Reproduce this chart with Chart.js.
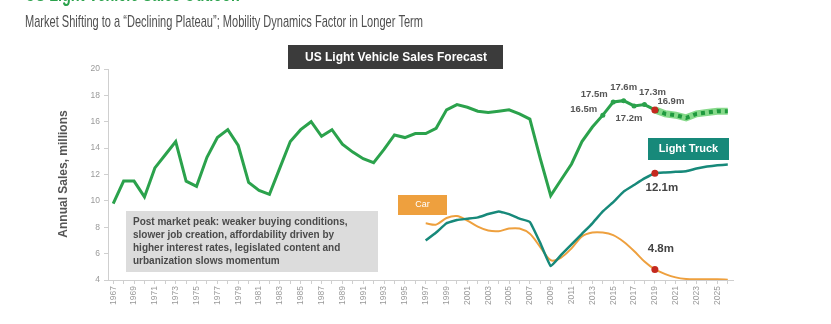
<!DOCTYPE html>
<html>
<head>
<meta charset="utf-8">
<script src="https://cdn.jsdelivr.net/npm/chart.js@4/dist/chart.umd.min.js"></script>
<style>
  html, body { margin: 0; padding: 0; background: #fff; }
  canvas { display: block; }
</style>
</head>
<body>
<canvas id="salesChart" width="831" height="324"></canvas>
<script>
// categories: 1967 .. 2026
const years = [];
for (let y = 1967; y <= 2026; y++) years.push(String(y));

// total light vehicle sales, actual 1967-2019 (millions)
const lvActual = [9.8, 11.5, 11.5, 10.3, 12.5, 13.5, 14.5, 11.5, 11.1, 13.3,
  14.8, 15.4, 14.2, 11.4, 10.8, 10.5, 12.5, 14.5, 15.4, 16.0,
  14.9, 15.4, 14.3, 13.7, 13.2, 12.9, 13.9, 15.0, 14.8, 15.1,
  15.1, 15.5, 16.9, 17.3, 17.1, 16.8, 16.7, 16.8, 16.9, 16.6,
  16.2, 13.2, 10.4, 11.6, 12.8, 14.5, 15.6, 16.5, 17.5, 17.6,
  17.2, 17.3, 16.9];
// forecast 2020-2026
const lvForecast = [16.6, 16.5, 16.3, 16.6, 16.7, 16.8, 16.8];

// segments, 1997-2026
const lightTruck = [7.0, 7.6, 8.3, 8.55, 8.65, 8.75, 9.0, 9.2, 9.0, 8.65,
  8.4, 6.8, 5.05, 5.9, 6.7, 7.5, 8.3, 9.2, 9.9, 10.7,
  11.2, 11.7, 12.1, 12.15, 12.2, 12.25, 12.45, 12.6, 12.7, 12.75];
const car = [8.3, 8.2, 8.7, 8.85, 8.5, 8.05, 7.75, 7.7, 7.9, 7.9,
  7.5, 6.5, 5.5, 5.7, 6.4, 7.3, 7.6, 7.6, 7.4, 6.9,
  6.2, 5.4, 4.8, 4.45, 4.2, 4.08, 4.05, 4.05, 4.05, 4.02];

// value labels: [series, year, text, dx, dy, size]
const valueLabels = [
  ["lv", "2014", "16.5m", -19, -6, 9.5],
  ["lv", "2015", "17.5m", -19, -8, 9.5],
  ["lv", "2016", "17.6m", 0, -13, 9.5],
  ["lv", "2017", "17.2m", -5, 12, 9.5],
  ["lv", "2018", "17.3m", 8, -12, 9.5],
  ["lv", "2019", "16.9m", 16, -9, 9.5],
  ["truck", "2019", "12.1m", 7, 15, 11.5],
  ["car", "2019", "4.8m", 6, -21, 11.5]
];

const yTicks = [4, 6, 8, 10, 12, 14, 16, 18, 20];
const noteLines = [
  "Post market peak: weaker buying conditions,",
  "slower job creation, affordability driven by",
  "higher interest rates, legislated content and",
  "urbanization slows momentum"
];

const GREEN = "#2ba24c";
const TEAL = "#17897a";
const ORANGE = "#eea03e";
const RED = "#c4291f";
const lastIdx = years.indexOf("2019");

const pad = (n) => new Array(n).fill(null);
const lvData = lvActual.concat(pad(years.length - lvActual.length));
const fcData = pad(lastIdx).concat([lvActual[lvActual.length - 1]], lvForecast);
const truckData = pad(years.length - lightTruck.length).concat(lightTruck);
const carData = pad(years.length - car.length).concat(car);

const redAt = (base, r) => ({
  pointRadius: (c) => (c.dataIndex === lastIdx ? 3.5 : r(c)),
  pointBackgroundColor: (c) => (c.dataIndex === lastIdx ? RED : base),
  pointBorderWidth: 0
});

const textPlugin = {
  id: "texts",
  afterDraw(chart) {
    const ctx = chart.ctx;
    const xs = chart.scales.x, ys = chart.scales.y;
    ctx.save();

    // headline (cut off at top)
    ctx.fillStyle = GREEN;
    ctx.font = "bold 22px 'Liberation Sans', Arial, sans-serif";
    ctx.textAlign = "left";
    ctx.textBaseline = "alphabetic";
    ctx.fillText("US Light Vehicle Sales Outlook", 25, 1, 214);

    ctx.fillStyle = "#505050";
    ctx.font = "17px 'Liberation Sans Narrow', 'Liberation Sans', Arial, sans-serif";
    ctx.fillText("Market Shifting to a \u201CDeclining Plateau\u201D; Mobility Dynamics Factor in Longer Term", 25, 27, 398);

    // dark title box
    ctx.fillStyle = "#3b3b3b";
    ctx.fillRect(288, 45, 215, 24);
    ctx.fillStyle = "#fff";
    ctx.font = "bold 12px 'Liberation Sans', Arial, sans-serif";
    ctx.textAlign = "center";
    ctx.textBaseline = "middle";
    ctx.fillText("US Light Vehicle Sales Forecast", 396, 57.5, 202);

    // y axis title
    ctx.save();
    ctx.translate(64, 174);
    ctx.rotate(-Math.PI / 2);
    ctx.fillStyle = "#555";
    ctx.font = "bold 12px 'Liberation Sans', Arial, sans-serif";
    ctx.fillText("Annual Sales, millions", 0, 0, 138);
    ctx.restore();

    // note box
    ctx.fillStyle = "#dcdcdc";
    ctx.fillRect(126, 211, 252, 61);
    ctx.fillStyle = "#4a4a4a";
    ctx.font = "bold 10px 'Liberation Sans', Arial, sans-serif";
    ctx.textAlign = "left";
    noteLines.forEach((t, i) => ctx.fillText(t, 133, 222 + i * 13.2, 236));

    // series tags
    ctx.fillStyle = ORANGE;
    ctx.fillRect(398, 195, 49, 20);
    ctx.fillStyle = "#fff";
    ctx.font = "9px 'Liberation Sans', Arial, sans-serif";
    ctx.textAlign = "center";
    ctx.fillText("Car", 422.5, 205);

    ctx.fillStyle = TEAL;
    ctx.fillRect(648, 138, 81, 22);
    ctx.fillStyle = "#fff";
    ctx.font = "bold 11px 'Liberation Sans', Arial, sans-serif";
    ctx.fillText("Light Truck", 688.5, 149);

    // value labels
    const series = { lv: lvData.map((v, i) => v ?? fcData[i]), truck: truckData, car: carData };
    valueLabels.forEach(([s, yr, txt, dx, dy, size]) => {
      const i = years.indexOf(yr);
      const px = xs.getPixelForValue(i);
      const py = ys.getPixelForValue(series[s][i]);
      ctx.fillStyle = size > 10 ? "#444" : "#555";
      ctx.font = "bold " + size + "px 'Liberation Sans', Arial, sans-serif";
      ctx.fillText(txt, px + dx, py + dy);
    });
    ctx.restore();
  }
};

new Chart(document.getElementById("salesChart"), {
  type: "line",
  data: {
    labels: years,
    datasets: [
      {
        label: "Total",
        data: lvData,
        borderColor: GREEN,
        borderWidth: 3,
        tension: 0,
        ...redAt(GREEN, (c) => (c.dataIndex >= lastIdx - 5 && c.dataIndex < lastIdx ? 2.5 : 0))
      },
      {
        label: "Forecast",
        data: fcData,
        borderColor: "#1f9a3e",
        borderWidth: 4,
        borderDash: [4, 4],
        pointRadius: 0
      },
      {
        label: "Forecast band",
        data: fcData,
        borderColor: "#86d98a",
        borderWidth: 7,
        pointRadius: 0
      },
      {
        label: "Light Truck",
        data: truckData,
        borderColor: TEAL,
        borderWidth: 2.5,
        tension: 0.1,
        ...redAt(TEAL, () => 0)
      },
      {
        label: "Car",
        data: carData,
        borderColor: ORANGE,
        borderWidth: 2,
        tension: 0.3,
        ...redAt(ORANGE, () => 0)
      }
    ]
  },
  options: {
    responsive: false,
    animation: false,
    layout: { padding: { left: 0, top: 69, right: 98, bottom: 0 } },
    plugins: { legend: { display: false }, tooltip: { enabled: false } },
    scales: {
      x: {
        offset: true,
        afterFit: (s) => { s.height = 44; },
        grid: { drawOnChartArea: false, tickLength: 4, color: "#cfcfcf" },
        border: { color: "#cfcfcf" },
        ticks: {
          autoSkip: false,
          minRotation: 90,
          maxRotation: 90,
          padding: 2,
          color: "#9a9a9a",
          font: { size: 8.5, family: "'Liberation Sans', Arial, sans-serif" },
          callback: (v, i) => (Number(years[i]) % 2 === 1 ? years[i] : "")
        }
      },
      y: {
        min: yTicks[0],
        max: yTicks[yTicks.length - 1],
        afterFit: (s) => { s.width = 108; },
        afterBuildTicks: (s) => { s.ticks = yTicks.map((v) => ({ value: v })); },
        grid: { drawOnChartArea: false, tickLength: 4, color: "#cfcfcf" },
        border: { color: "#cfcfcf" },
        ticks: {
          padding: 4,
          color: "#9a9a9a",
          font: { size: 8.5, family: "'Liberation Sans', Arial, sans-serif" }
        }
      }
    }
  },
  plugins: [textPlugin]
});
</script>
</body>
</html>
